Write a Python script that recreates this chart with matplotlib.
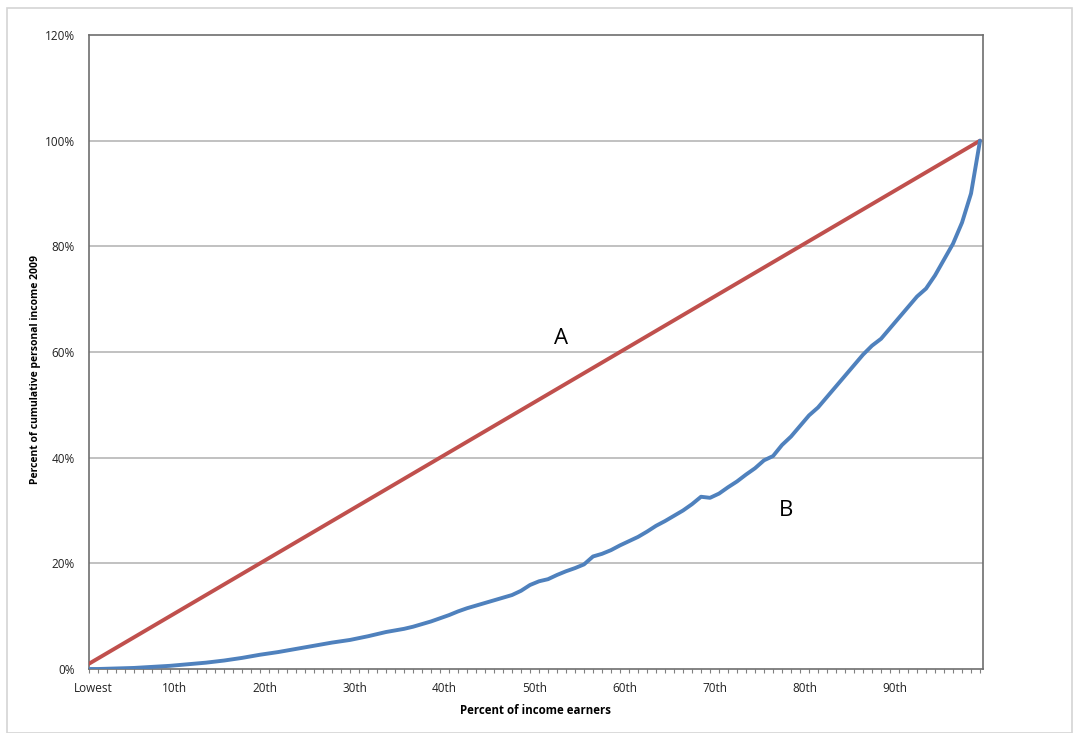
import numpy as np
import matplotlib.pyplot as plt
from matplotlib.patches import Rectangle

# percentile categories (1 = lowest ... 100 = top)
categories = list(range(1, 101))

# line of equality (A)
equality = [
    1, 2, 3, 4, 5, 6, 7, 8, 9, 10,
    11, 12, 13, 14, 15, 16, 17, 18, 19, 20,
    21, 22, 23, 24, 25, 26, 27, 28, 29, 30,
    31, 32, 33, 34, 35, 36, 37, 38, 39, 40,
    41, 42, 43, 44, 45, 46, 47, 48, 49, 50,
    51, 52, 53, 54, 55, 56, 57, 58, 59, 60,
    61, 62, 63, 64, 65, 66, 67, 68, 69, 70,
    71, 72, 73, 74, 75, 76, 77, 78, 79, 80,
    81, 82, 83, 84, 85, 86, 87, 88, 89, 90,
    91, 92, 93, 94, 95, 96, 97, 98, 99, 100,
]

cumulative_income = [
    0.0, 0.0, 0.05, 0.1, 0.15, 0.2, 0.3, 0.4, 0.5, 0.6,
    0.75, 0.9, 1.05, 1.2, 1.4, 1.6, 1.85, 2.1, 2.4, 2.7,
    2.95, 3.2, 3.5, 3.8, 4.1, 4.4, 4.7, 5.0, 5.25, 5.5,
    5.85, 6.2, 6.6, 7.0, 7.3, 7.6, 8.0, 8.5, 9.0, 9.6,
    10.2, 10.9, 11.5, 12.0, 12.5, 13.0, 13.5, 14.0, 14.8, 15.9,
    16.6, 17.0, 17.8, 18.5, 19.1, 19.8, 21.3, 21.8, 22.5, 23.4,
    24.2, 25.0, 26.0, 27.1, 28.0, 29.0, 30.0, 31.2, 32.6, 32.4,
    33.2, 34.4, 35.5, 36.8, 38.0, 39.5, 40.3, 42.4, 44.0, 46.0,
    48.0, 49.5, 51.5, 53.5, 55.5, 57.5, 59.5, 61.2, 62.5, 64.5,
    66.5, 68.5, 70.5, 72.0, 74.5, 77.5, 80.5, 84.5, 90.0, 100.0,
]

x_label_pos = [1, 10, 20, 30, 40, 50, 60, 70, 80, 90]
x_labels = ['Lowest', '10th', '20th', '30th', '40th', '50th', '60th', '70th', '80th', '90th']
y_ticks = [0, 20, 40, 60, 80, 100, 120]
y_labels = ['0%', '20%', '40%', '60%', '80%', '100%', '120%']

plt.rcParams['font.family'] = ['Open Sans', 'DejaVu Sans']

fig = plt.figure(figsize=(10.75, 7.33), dpi=100)
ax = fig.add_axes([89 / 1075, 64 / 733, 894 / 1075, 634 / 733])

# light frame around the whole chart
fig.patches.append(Rectangle((7 / 1075, 0), 1065 / 1075, 725 / 733, transform=fig.transFigure,
                             fill=False, edgecolor='#d4d4d4', linewidth=1.2))

ax.plot(categories, equality, color='#c0504d', linewidth=2.8, solid_capstyle='round', zorder=3)
ax.plot(categories, np.array(cumulative_income), color='#4f81bd', linewidth=2.8,
        solid_capstyle='round', zorder=3)

ax.set_xlim(1, 100.33)
ax.set_ylim(0, 120)

# Excel-style labels sit half a category to the right of the tick
ax.set_xticks([p + 0.5 for p in x_label_pos])
ax.set_xticklabels(x_labels, fontsize=8.5)
ax.set_xticks(categories, minor=True)
ax.tick_params(axis='x', which='major', length=0, pad=9, colors='#222222')
ax.tick_params(axis='x', which='minor', length=3, direction='out', color='#808080', width=0.8)

ax.set_yticks(y_ticks)
ax.set_yticklabels(y_labels, fontsize=8.5)
ax.tick_params(axis='y', length=0, pad=10, colors='#222222')

for y in y_ticks[1:-1]:
    ax.axhline(y, color='#b0b0b0', linewidth=1.1, zorder=1)

for side in ['left', 'bottom', 'top', 'right']:
    ax.spines[side].set_color('#6e6e6e')
    ax.spines[side].set_linewidth(1.2)

ax.set_xlabel('Percent of income earners', fontsize=8.3, fontweight='bold', labelpad=7)
ax.set_ylabel('Percent of cumulative personal income 2009', fontsize=7.5, fontweight='bold')
ax.yaxis.set_label_coords(-0.054, 0.473)

ax.text(53.4, 62.5, 'A', fontsize=16, ha='center', va='center', color='black')
ax.text(78.4, 30, 'B', fontsize=16, ha='center', va='center', color='black')

fig.savefig('out.png', dpi=100)
